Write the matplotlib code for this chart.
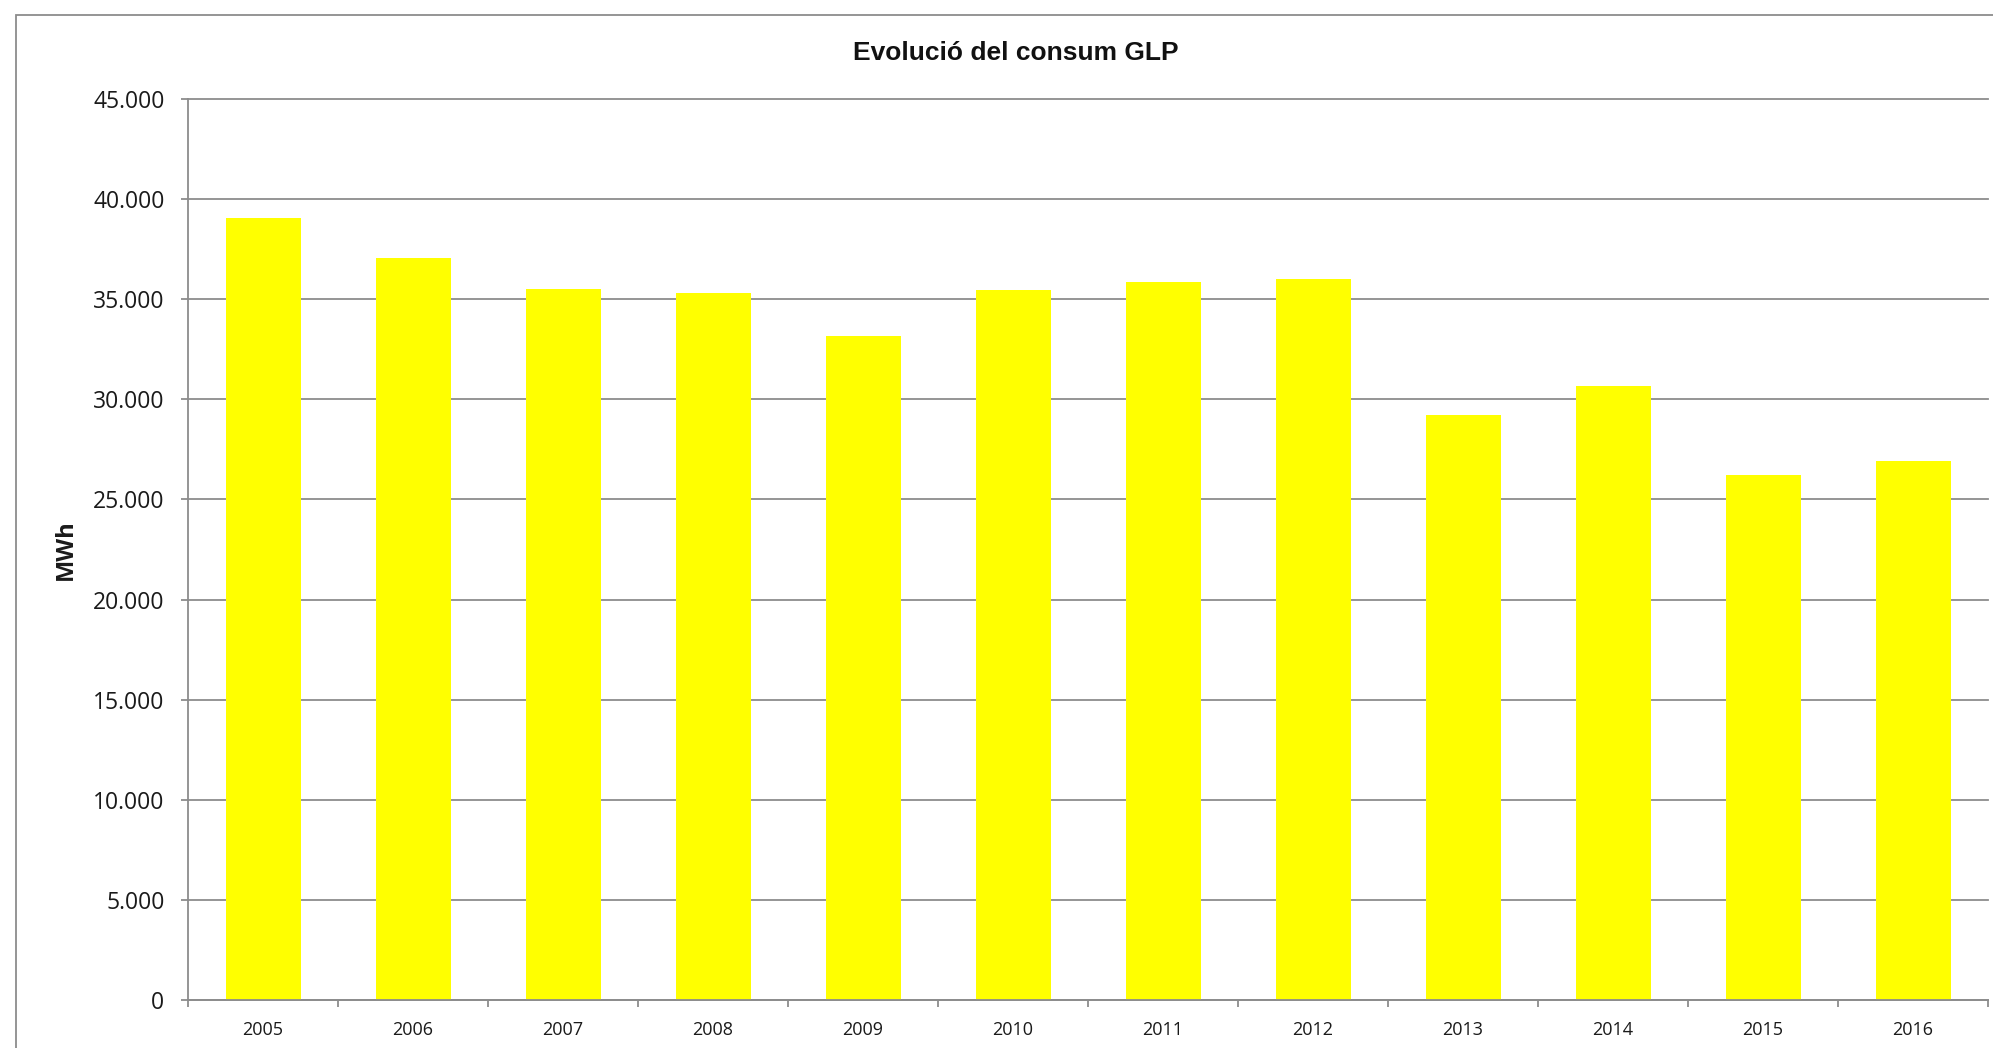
#!/usr/bin/env python3
"""Bar chart: evolució del consum de GLP (MWh), 2005-2016."""
import matplotlib
matplotlib.use("Agg")
import matplotlib.pyplot as plt
from matplotlib.patches import Rectangle
from matplotlib.ticker import FuncFormatter, FixedLocator

# ── Data ────────────────────────────────────────────────────────────────
years = ["2005", "2006", "2007", "2008", "2009", "2010",
         "2011", "2012", "2013", "2014", "2015", "2016"]
consum_mwh = [39065, 37060, 35510, 35310, 33150, 35450,
              35850, 36000, 29200, 30650, 26200, 26900]
y_ticks = [0, 5000, 10000, 15000, 20000, 25000, 30000, 35000, 40000, 45000]

TITLE = "Evolució del consum GLP"
Y_LABEL = "MWh"

GREY = "#8c8c8c"
W, H = 1993, 1048


def thousands(v, _pos=None):
    # catalan style: dot as thousands separator
    return f"{int(v):,}".replace(",", ".")


def main():
    fig = plt.figure(figsize=(W / 100, H / 100), dpi=100)
    fig.patch.set_facecolor("white")

    # chart area frame (runs off the right/bottom edge)
    fig.patches.append(Rectangle((16 / W, -0.1), 1.2, 1 - 15 / H + 0.1,
                                 transform=fig.transFigure, fill=False,
                                 edgecolor=GREY, linewidth=1.3, zorder=0))

    left, right = 188 / W, 1988 / W
    bottom, top = 1 - 1000 / H, 1 - 99 / H
    ax = fig.add_axes([left, bottom, right - left, top - bottom])

    x = list(range(len(years)))
    ax.bar(x, consum_mwh, width=0.5, color="#ffff00", edgecolor="none", zorder=2)

    ax.set_xlim(-0.5, len(years) - 0.5)
    ax.set_ylim(0, 45000)

    # gridlines / spines
    ax.set_yticks(y_ticks)
    ax.yaxis.set_major_formatter(FuncFormatter(thousands))
    ax.grid(axis="y", color=GREY, linewidth=1.3, zorder=1)
    ax.set_axisbelow(True)
    for gl in ax.get_ygridlines():
        gl.set_clip_on(False)  # keep the 45.000 line at full width
    for side in ("top", "right"):
        ax.spines[side].set_visible(False)
    for side in ("left", "bottom"):
        ax.spines[side].set_color(GREY)
        ax.spines[side].set_linewidth(1.3)

    # labels at category centres, tick marks at category boundaries
    ax.set_xticks(x)
    ax.set_xticklabels(years)
    ax.xaxis.set_minor_locator(FixedLocator([i - 0.5 for i in range(len(years) + 1)]))
    ax.tick_params(axis="x", which="major", length=0, pad=15)
    ax.tick_params(axis="x", which="minor", length=5, width=1.3, color=GREY)
    ax.tick_params(axis="y", length=5, width=1.3, color=GREY, pad=12)

    for lbl in ax.get_xticklabels():
        lbl.set_fontfamily("Open Sans")
        lbl.set_fontsize(13)
        lbl.set_color("#1a1a1a")
    for lbl in ax.get_yticklabels():
        lbl.set_fontfamily("Open Sans")
        lbl.set_fontsize(16.5)
        lbl.set_color("#1a1a1a")

    fig.text(66 / W, 1 - 550 / H, Y_LABEL, rotation=90, ha="center", va="center",
             fontfamily="Open Sans", fontweight="bold", fontsize=17, color="#1a1a1a")
    fig.text(1016 / W, 1 - 60 / H, TITLE, ha="center", va="baseline",
             fontfamily="Liberation Sans", fontweight="bold", fontsize=19, color="#111111")

    fig.savefig("out.png", dpi=100, facecolor="white")


if __name__ == "__main__":
    main()
